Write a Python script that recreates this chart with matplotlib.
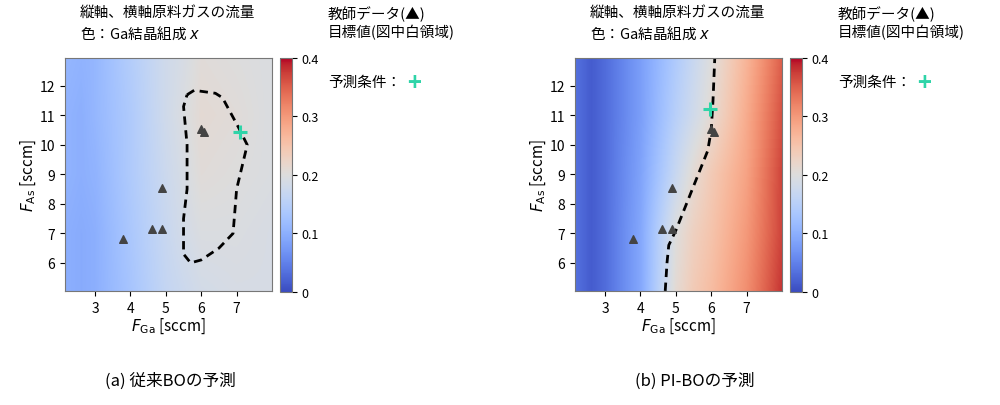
import numpy as np
import matplotlib.pyplot as plt
from matplotlib.colors import Normalize

plt.rcParams['font.family'] = ['Noto Sans CJK JP']

# grid nodes for the composition maps
f_ga_nodes = [2.15, 2.6, 3.0, 4.0, 5.0, 5.5, 6.0, 7.0, 8.0]
f_as_nodes = [5.05, 7.0, 9.0, 11.0, 12.95]

# conventional BO predicted x (rows = f_as_nodes, cols = f_ga_nodes)
x_conv = [
    [0.10, 0.095, 0.10, 0.13, 0.165, 0.175, 0.185, 0.19, 0.19],
    [0.10, 0.095, 0.10, 0.135, 0.17, 0.185, 0.195, 0.195, 0.19],
    [0.105, 0.10, 0.105, 0.14, 0.175, 0.19, 0.205, 0.20, 0.195],
    [0.105, 0.10, 0.11, 0.14, 0.18, 0.195, 0.21, 0.205, 0.195],
    [0.11, 0.105, 0.11, 0.145, 0.18, 0.19, 0.205, 0.20, 0.195],
]
# PI-BO predicted x
x_pibo = [
    [0.035, 0.015, 0.03, 0.09, 0.21, 0.24, 0.26, 0.31, 0.38],
    [0.035, 0.015, 0.03, 0.09, 0.20, 0.23, 0.25, 0.30, 0.37],
    [0.035, 0.015, 0.03, 0.085, 0.17, 0.21, 0.24, 0.29, 0.37],
    [0.035, 0.015, 0.03, 0.08, 0.15, 0.18, 0.21, 0.28, 0.36],
    [0.035, 0.015, 0.03, 0.08, 0.14, 0.17, 0.20, 0.27, 0.35],
]

train_ga = [3.8, 4.6, 4.88, 4.88, 6.0, 6.07]
train_as = [6.8, 7.15, 7.15, 8.55, 10.55, 10.45]

pred_conv = (7.1, 10.45)
pred_pibo = (5.97, 11.2)

target_conv_ga = [5.6, 5.8, 6.4, 6.6, 7.05, 7.3, 7.2, 7.0, 6.9, 6.5, 6.0, 5.7, 5.5, 5.5, 5.6, 5.6, 5.5, 5.6]
target_conv_as = [11.7, 11.85, 11.75, 11.6, 10.6, 10.0, 9.5, 8.5, 7.0, 6.5, 6.1, 6.0, 6.3, 7.5, 8.5, 10.0, 11.3, 11.7]
target_pibo_ga = [4.7, 4.75, 4.8, 5.0, 5.5, 5.9, 6.0, 6.05, 6.1]
target_pibo_as = [5.05, 6.0, 6.6, 7.1, 8.6, 9.8, 10.5, 11.5, 12.95]

green = '#2fd4a8'
norm = Normalize(0, 0.4)


def fine_map(grid):
    xs = np.linspace(2.15, 8.0, 300)
    ys = np.linspace(5.05, 12.95, 300)
    g = np.array(grid)
    rows = np.array([np.interp(xs, f_ga_nodes, r) for r in g])
    return np.array([np.interp(ys, f_as_nodes, rows[:, j]) for j in range(len(xs))]).T


def panel(fig, x0, grid, tg, ta, pred, caption, cx):
    ax = fig.add_axes([x0, 0.281, 0.207, 0.574])
    im = ax.imshow(fine_map(grid), origin='lower', extent=[2.15, 8.0, 5.05, 12.95],
                   aspect='auto', cmap='coolwarm', norm=norm)
    ax.plot(tg, ta, 'k--', lw=2, dashes=(3, 2))
    ax.scatter(train_ga, train_as, marker='^', s=30, color='#444444', zorder=3)
    ax.plot(*pred, '+', color=green, ms=10, mew=2.2, zorder=4)
    ax.set_xticks([3, 4, 5, 6, 7])
    ax.set_yticks([6, 7, 8, 9, 10, 11, 12])
    ax.tick_params(labelsize=10)
    ax.set_xlabel(r'$F_{\rm Ga}$ [sccm]', fontsize=11, labelpad=1)
    ax.set_ylabel(r'$F_{\rm As}$ [sccm]', fontsize=11, labelpad=1)
    for s in ax.spines.values():
        s.set_color('#777777')
    cax = fig.add_axes([x0 + 0.215, 0.279, 0.012, 0.576])
    cb = fig.colorbar(im, cax=cax, ticks=[0, 0.1, 0.2, 0.3, 0.4])
    cb.ax.set_yticklabels(['0', '0.1', '0.2', '0.3', '0.4'])
    cb.ax.tick_params(labelsize=9)
    cb.outline.set_edgecolor('#777777')
    fig.text(x0 + 0.015, 0.985, '縦軸、横軸原料ガスの流量\n色：Ga結晶組成 $x$', fontsize=10.5,
             va='top', linespacing=1.3)
    fig.text(x0 + 0.263, 0.985, '教師データ(▲)\n目標値(図中白領域)', fontsize=10.5,
             va='top', linespacing=1.3)
    fig.text(x0 + 0.263, 0.795, '予測条件：', fontsize=10.5, va='center')
    fig.text(x0 + 0.342, 0.793, '+', fontsize=17, va='center', color=green, fontweight='bold')
    fig.text(cx, 0.06, caption, fontsize=12, ha='center', va='center')


fig = plt.figure(figsize=(10, 4.06), dpi=100)
panel(fig, 0.065, x_conv, target_conv_ga, target_conv_as, pred_conv, '(a) 従来BOの予測', 0.17)
panel(fig, 0.575, x_pibo, target_pibo_ga, target_pibo_as, pred_pibo, '(b) PI-BOの予測', 0.695)
fig.savefig('out.png', dpi=100)
